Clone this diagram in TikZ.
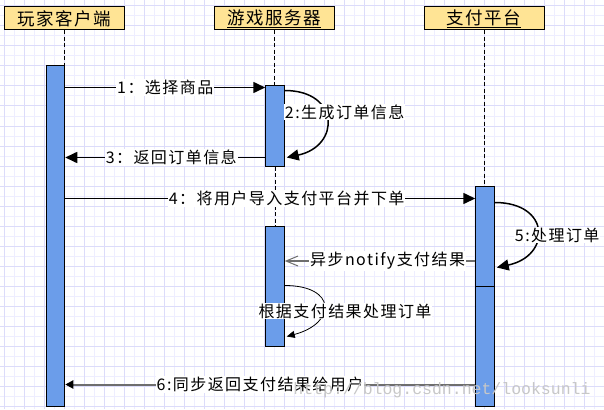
\documentclass[tikz,border=0pt]{standalone}
\usepackage{fontspec}
\setmainfont{Noto Sans CJK SC}
\newfontfamily\lblfont[LetterSpace=9]{Noto Sans CJK SC}
\newfontfamily\markfont{Liberation Mono}
\usetikzlibrary{arrows.meta,positioning,calc}
\definecolor{headfill}{HTML}{FFE495}
\definecolor{barfill}{HTML}{6B9DEA}
\definecolor{gridmajor}{HTML}{DCDCFA}
\definecolor{gridminor}{HTML}{EEEEFF}
\definecolor{replygray}{HTML}{6E6E6E}
\tikzset{
  headbox/.style={draw, line width=1pt, fill=headfill, minimum width=120pt,
    minimum height=23pt, inner sep=0pt, font={\fontsize{17.5}{20}\lblfont}},
  actbar/.style={draw, line width=1pt, fill=barfill, minimum width=18.5pt, inner sep=0pt},
  lifeline/.style={line width=1pt, dash pattern=on 4pt off 2.5pt},
  msg/.style={line width=1.6pt, -{Triangle[length=12pt,width=11pt]}},
  selfmsg/.style={msg, line width=1.5pt},
  thinself/.style={line width=0.8pt, -{Triangle[length=8pt,width=7pt]}},
  asyncmsg/.style={line width=1.2pt, draw=replygray,
    -{Straight Barb[length=12pt,width=10pt,line width=1pt]}},
  syncret/.style={line width=2pt, draw=replygray,
    -{Triangle[length=8pt,width=8pt,color=black]}},
  lbl/.style={fill=white, inner sep=1pt, font={\fontsize{16}{18}\lblfont}}
}
\begin{document}
\begin{tikzpicture}[x=1pt,y=1pt]
  \useasboundingbox (0,0) rectangle (604,-409);
  % background grid
  \foreach \gx in {14,34,...,604} \draw[gridminor, line width=1pt] (\gx,0) -- (\gx,-409);
  \foreach \gy in {16,36,...,409} \draw[gridminor, line width=1pt] (0,-\gy) -- (604,-\gy);
  \foreach \gx in {4,24,...,604} \draw[gridmajor, line width=1pt] (\gx,0) -- (\gx,-409);
  \foreach \gy in {6,26,...,409} \draw[gridmajor, line width=1pt] (0,-\gy) -- (604,-\gy);

  % participants
  \node[headbox] (client) at (64,-18.5) {玩家客户端};
  \node[headbox] (server) at (274,-18.5) {\underline{游戏服务器}};
  \node[headbox] (pay) at (484,-18.5) {\underline{支付平台}};

  % activation bars
  \node[actbar, minimum height=340pt] (cbar) at (55.5,-236) {};
  \node[actbar, minimum height=80pt] (sbarA) at (275,-126) {};
  \node[actbar, minimum height=120pt] (sbarB) at (275,-286) {};
  \node[actbar, minimum height=100pt] (pbarA) at (485,-236) {};
  \node[actbar, minimum height=120pt] (pbarB) at (485,-346) {};

  \draw[lifeline] (client.south) -- (client.south |- cbar.north);
  \draw[lifeline] (server.south) -- (server.south |- sbarA.north);
  \draw[lifeline] (sbarA.south) -- (sbarB.north);
  \draw[lifeline] (pay.south) -- (pay.south |- pbarA.north);

  % messages
  \coordinate (m1) at ([yshift=-2pt]sbarA.north);
  \coordinate (m3) at ([yshift=9pt]sbarA.south);
  \coordinate (m4) at ([yshift=-13pt]pbarA.north);
  \coordinate (m5) at ([yshift=25pt]sbarB.center);
  \coordinate (m6) at ([yshift=22pt]pbarB.south);
  \draw[msg] (cbar.east |- m1) -- (sbarA.west |- m1) node[lbl, midway] (selectlbl) {1：选择商品};
  \draw[selfmsg] ([yshift=-5pt]sbarA.north east) to[out=0, in=12, looseness=2.1] ([xshift=2pt,yshift=9pt]sbarA.south east);
  \node[lbl, anchor=west] (genlbl) at ([xshift=-1pt,yshift=14pt]sbarA.east) {2:生成订单信息};
  \draw[msg] (sbarA.west |- m3) -- (cbar.east |- m3) node[lbl, pos=0.47] (backlbl) {3：返回订单信息};
  \draw[msg] (cbar.east |- m4) -- (pbarA.west |- m4) node[lbl, pos=0.54] (guidelbl) {4：将用户导入支付平台并下单};
  \draw[selfmsg] ([yshift=-17pt]pbarA.north east) to[out=0, in=12, looseness=2.2] ([xshift=2pt,yshift=19pt]pbarA.south east);
  \node[lbl, anchor=west] (orderlbl) at ([xshift=19pt,yshift=1pt]pbarA.east) {5:处理订单};
  \draw[asyncmsg] (pbarA.west |- m5) -- (sbarB.east |- m5) node[lbl, pos=0.46] (notifylbl) {异步notify支付结果};
  \draw[thinself] ([yshift=-60pt]sbarB.north east) to[out=0, in=15, looseness=2.6] ([xshift=2pt,yshift=10pt]sbarB.south east);
  \node[lbl] (handlelbl) at ([xshift=70pt,yshift=-25pt]sbarB.center) {根据支付结果处理订单};
  \draw[syncret] (pbarB.west |- m6) -- (cbar.east |- m6) node[lbl, pos=0.525] (returnlbl) {6:同步返回支付结果给用户};

  \node[text=black!22, font={\fontsize{16.5}{18}\markfont}] (mark) at (442,-390) {http://blog.csdn.net/looksunli};
\end{tikzpicture}
\end{document}
